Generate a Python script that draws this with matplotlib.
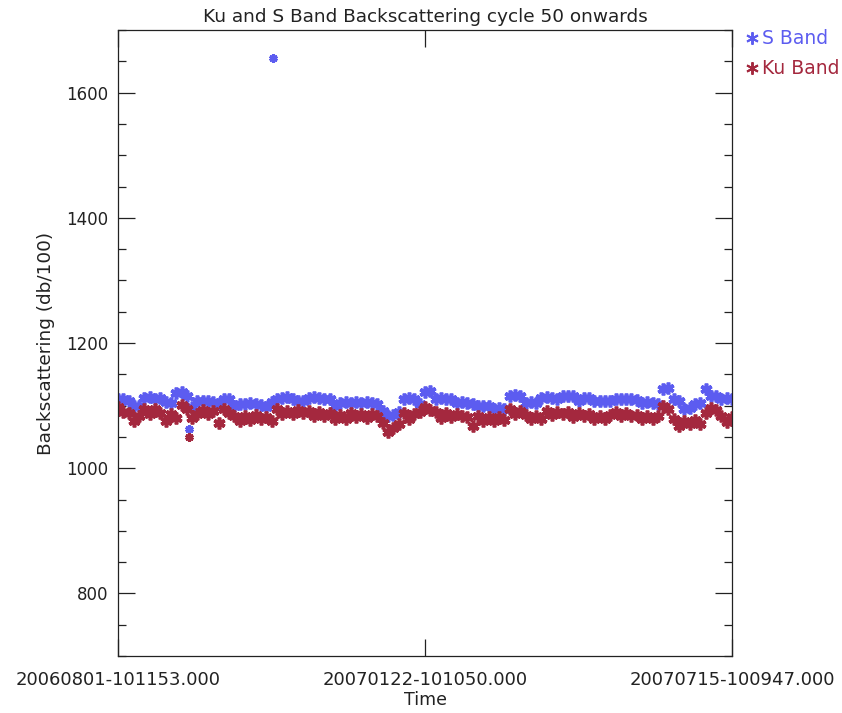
import numpy as np
import matplotlib
matplotlib.use("Agg")
import matplotlib.pyplot as plt
from matplotlib.lines import Line2D
from matplotlib.ticker import MultipleLocator

# ---- data ----
x_tick_labels = ["20060801-101153.000", "20070122-101050.000", "20070715-100947.000"]
x_tick_days = [0, 174, 348]

s_band = [1111, 1111, 1108, 1099, 1099, 1112, 1113, 1111, 1112, 1106,
          1104, 1120, 1122, 1116, 1097, 1107, 1108, 1107, 1106, 1103,
          1111, 1110, 1099, 1103, 1102, 1104, 1103, 1101, 1098, 1106,
          1111, 1112, 1113, 1110, 1108, 1108, 1112, 1113, 1112, 1111,
          1110, 1099, 1104, 1105, 1104, 1106, 1104, 1105, 1104, 1103,
          1091, 1083, 1085, 1089, 1111, 1112, 1111, 1103, 1122, 1124,
          1111, 1112, 1111, 1110, 1104, 1105, 1104, 1103, 1099, 1100,
          1099, 1095, 1096, 1095, 1115, 1117, 1115, 1104, 1105, 1104,
          1112, 1113, 1112, 1111, 1115, 1116, 1115, 1107, 1112, 1112,
          1107, 1108, 1107, 1108, 1111, 1110, 1111, 1110, 1109, 1104,
          1105, 1104, 1102, 1127, 1128, 1111, 1108, 1095, 1096, 1102,
          1104, 1127, 1116, 1115, 1111, 1112, 1110]

ku_band = [1097, 1089, 1088, 1076, 1084, 1095, 1086, 1094, 1088, 1076,
           1087, 1080, 1101, 1095, 1080, 1086, 1093, 1087, 1091, 1072,
           1094, 1088, 1084, 1076, 1083, 1077, 1085, 1078, 1082, 1075,
           1094, 1087, 1092, 1086, 1093, 1088, 1091, 1084, 1089, 1083,
           1088, 1079, 1085, 1078, 1088, 1081, 1086, 1080, 1087, 1083,
           1073, 1058, 1064, 1070, 1088, 1079, 1086, 1090, 1097, 1093,
           1090, 1080, 1088, 1081, 1087, 1083, 1082, 1068, 1083, 1076,
           1082, 1075, 1081, 1077, 1094, 1087, 1092, 1085, 1078, 1083,
           1079, 1092, 1085, 1090, 1086, 1089, 1082, 1088, 1084, 1086,
           1078, 1084, 1079, 1085, 1090, 1083, 1088, 1084, 1085, 1078,
           1084, 1079, 1083, 1100, 1095, 1078, 1068, 1076, 1070, 1077,
           1070, 1088, 1096, 1093, 1084, 1074, 1081]

# isolated outlying measurements
s_extra_days = [40, 88]
s_extra_vals = [1063, 1655]
ku_extra_days = [40]
ku_extra_vals = [1050]

s_days = np.linspace(0, 348, len(s_band))
ku_days = np.linspace(0, 348, len(ku_band))

S_COL = "#5c5cf0"
KU_COL = "#a4283e"
TXT = "#222222"

plt.rcParams['font.family'] = ['DejaVu Sans']

fig = plt.figure(figsize=(8.42, 7.13), dpi=100)
ax = fig.add_axes([118/842, 1-656/713, (732-118)/842, 626/713])

ast = (6, 2, 0)
MS, MEW = 8.5, 2.6
ax.plot(s_days, s_band, ls='none', marker=ast, ms=MS, mew=MEW, color=S_COL)
ax.plot(s_extra_days, s_extra_vals, ls='none', marker=ast, ms=6, mew=2.2, color=S_COL)
ax.plot(ku_days, ku_band, ls='none', marker=ast, ms=MS, mew=MEW, color=KU_COL)
ax.plot(ku_extra_days, ku_extra_vals, ls='none', marker=ast, ms=6, mew=2.2, color=KU_COL)

ax.set_xlim(0, 348)
ax.set_ylim(700, 1700)
ax.set_xticks(x_tick_days)
ax.set_xticklabels(x_tick_labels)
ax.yaxis.set_major_locator(MultipleLocator(200))
ax.yaxis.set_minor_locator(MultipleLocator(50))
ax.set_yticks([800, 1000, 1200, 1400, 1600])

ax.tick_params(axis='both', which='major', direction='in', length=12, width=0.9,
               colors=TXT, labelsize=12, top=True, right=True)
ax.tick_params(axis='y', which='minor', direction='in', length=6, width=0.9,
               colors=TXT, right=True)
ax.tick_params(axis='x', which='major', pad=11, labelsize=13)
ax.tick_params(axis='y', which='major', pad=7)
for sp in ax.spines.values():
    sp.set_color(TXT)
    sp.set_linewidth(0.9)

ax.set_title("Ku and S Band Backscattering cycle 50 onwards", fontsize=13.3,
             color=TXT, pad=6)
ax.set_xlabel("Time", fontsize=12.5, color=TXT, labelpad=1)
ax.set_ylabel("Backscattering (db/100)", fontsize=13.3, color=TXT, labelpad=8)

# legend outside on the right
fig.add_artist(Line2D([752/842], [1-38/713], transform=fig.transFigure, ls='none',
                      marker=ast, ms=9, mew=1.4, color=S_COL))
fig.text(762/842, 1-38/713, "S Band", color=S_COL, fontsize=13.5, va='center', ha='left')
fig.add_artist(Line2D([752/842], [1-68/713], transform=fig.transFigure, ls='none',
                      marker=ast, ms=9, mew=1.4, color=KU_COL))
fig.text(762/842, 1-68/713, "Ku Band", color=KU_COL, fontsize=13.5, va='center', ha='left')

fig.savefig("out.png", dpi=100, facecolor='white')
